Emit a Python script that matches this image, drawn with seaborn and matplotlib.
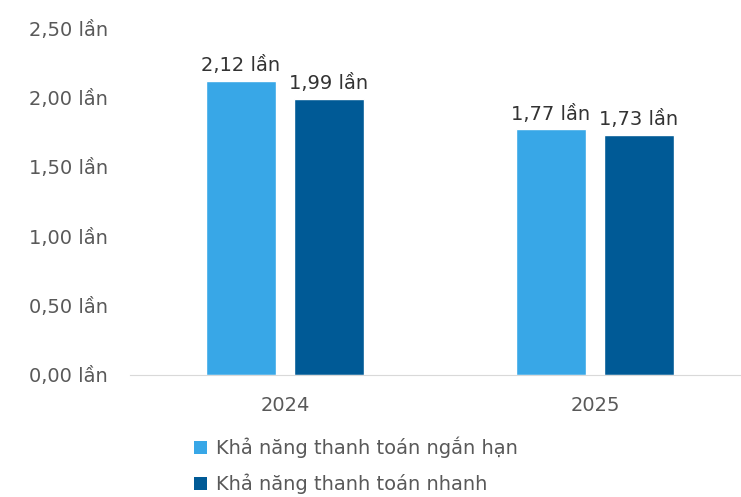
import matplotlib
matplotlib.use("Agg")
import matplotlib.pyplot as plt
import seaborn as sns
import pandas as pd
from matplotlib.patches import Patch
from matplotlib.ticker import FuncFormatter, FixedLocator

# data
years = ["2024", "2025"]
series = ["Khả năng thanh toán ngắn hạn", "Khả năng thanh toán nhanh"]
ngan_han = [2.12, 1.77]
nhanh = [1.99, 1.73]
colors = ["#38A7E7", "#005A96"]

df = pd.DataFrame({
    "year": years * 2,
    "series": [series[0]] * 2 + [series[1]] * 2,
    "value": ngan_han + nhanh,
})

sns.set_style("white")
plt.rcParams["font.family"] = ["DejaVu Sans"]

fig = plt.figure(figsize=(7.41, 4.97), dpi=100)
ax = fig.add_axes([130 / 741, 1 - 375 / 497, 620 / 741, 347 / 497])

sns.barplot(data=df, x="year", y="value", hue="series", palette=colors,
            width=0.568, gap=0.2, ax=ax, legend=False, saturation=1)

def fmt(v):
    return f"{v:.2f}".replace(".", ",") + " lần"

for cont in ax.containers:
    ax.bar_label(cont, labels=[fmt(b.get_height()) for b in cont], padding=4,
                 fontsize=14, color="#333333")

ax.set_ylim(0, 2.5)
ax.set_xlim(-0.5, 1.5)
ax.set_yticks([0, 0.5, 1.0, 1.5, 2.0, 2.5])
ax.yaxis.set_major_formatter(FuncFormatter(lambda v, p: fmt(v)))
ax.tick_params(axis="y", length=0, labelsize=14, labelcolor="#595959", pad=16)
ax.tick_params(axis="x", length=0, labelsize=14, labelcolor="#595959", pad=15)
ax.xaxis.set_minor_locator(FixedLocator([-0.5, 0.5, 1.5]))
ax.tick_params(axis="x", which="minor", length=7, color="#D9D9D9", width=1)
ax.set_xlabel("")
ax.set_ylabel("")
for s in ["top", "right", "left"]:
    ax.spines[s].set_visible(False)
ax.spines["bottom"].set_color("#D9D9D9")

handles = [Patch(facecolor=c, edgecolor="none") for c in colors]
fig.legend(handles, series, loc="upper left", bbox_to_anchor=(186 / 741, 1 - 429 / 497),
           frameon=False, fontsize=14, labelcolor="#595959", handlelength=0.7,
           handleheight=0.7, handletextpad=0.45, labelspacing=0.8, borderaxespad=0)

fig.savefig("out.png", dpi=100)
